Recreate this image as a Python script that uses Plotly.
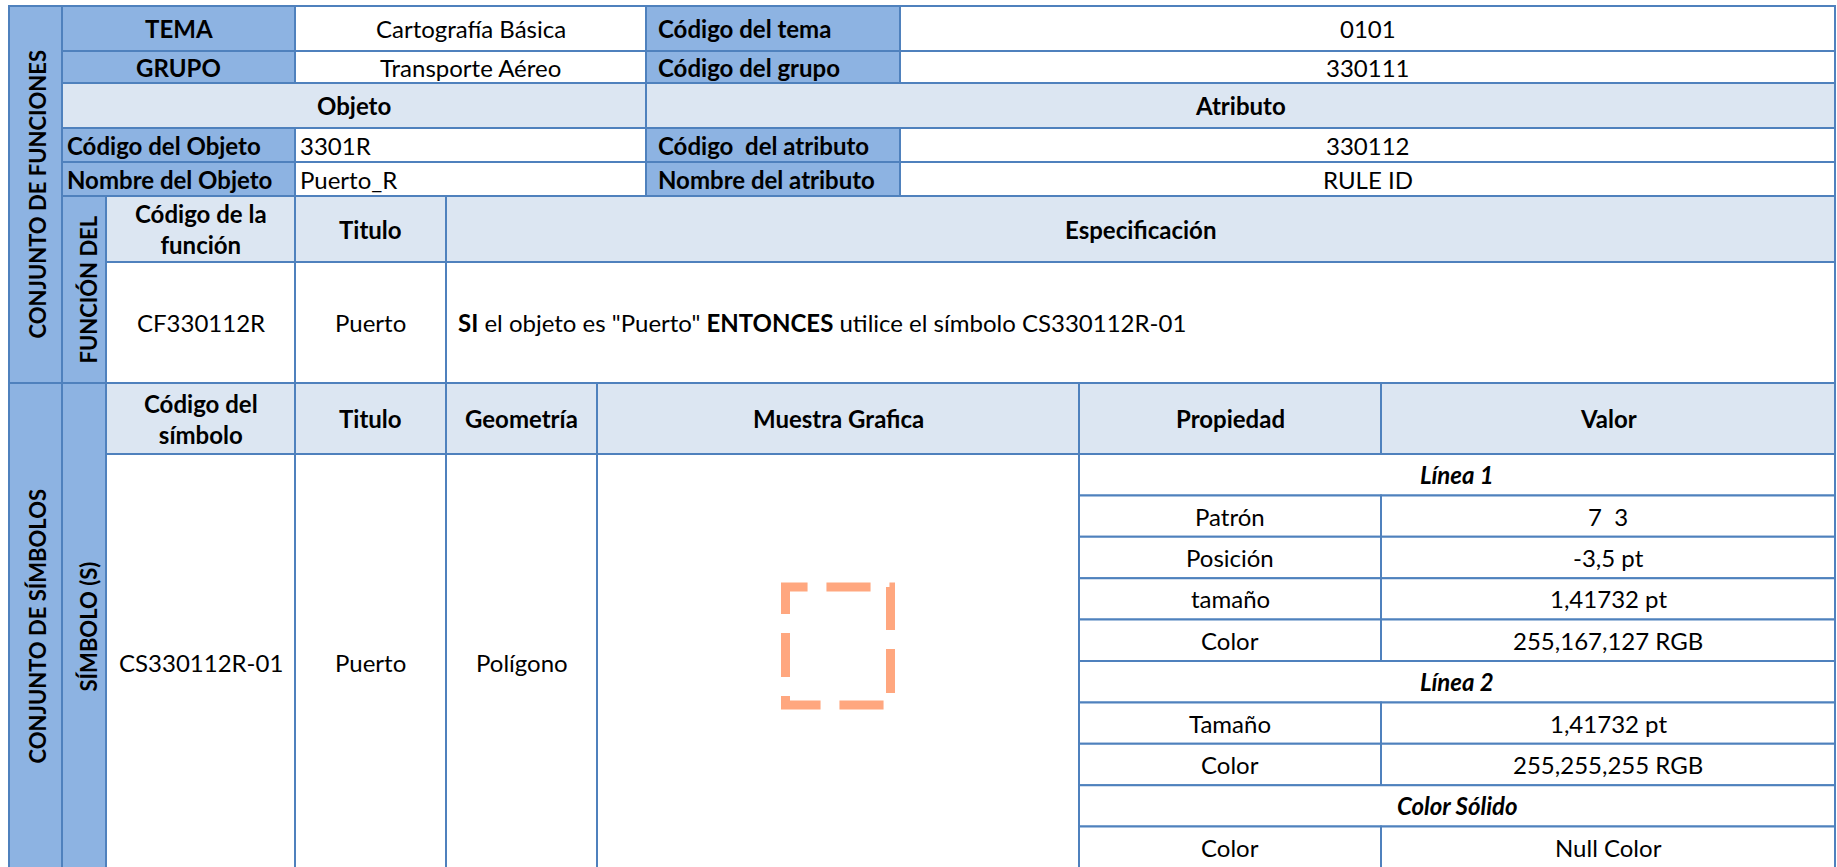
import plotly.graph_objects as go

# ---------------- data (table content) ----------------
tema_labels = ["TEMA", "GRUPO"]
tema_values = ["Cartografía Básica", "Transporte Aéreo"]
codigo_labels = ["Código del tema", "Código del grupo"]
codigo_values = ["0101", "330111"]
section_titles = ["Objeto", "Atributo"]
objeto_labels = ["Código del Objeto", "Nombre del Objeto"]
objeto_values = ["3301R", "Puerto_R"]
atributo_labels = ["Código\u00a0 del atributo", "Nombre del atributo"]
atributo_values = ["330112", "RULE ID"]
funcion_headers = ["Código de la<br>función", "Titulo", "Especificación"]
funcion_values = ["CF330112R", "Puerto",
                  "<b>SI</b> el objeto es \"Puerto\" <b>ENTONCES</b> utilice el símbolo CS330112R-01"]
simbolo_headers = ["Código del<br>símbolo", "Titulo", "Geometría", "Muestra Grafica", "Propiedad", "Valor"]
simbolo_values = ["CS330112R-01", "Puerto", "Polígono"]
property_names = ["Línea 1", "Patrón", "Posición", "tamaño", "Color",
                  "Línea 2", "Tamaño", "Color", "Color Sólido", "Color"]
property_values = [None, "7\u00a0\u00a03", "-3,5 pt", "1,41732 pt", "255,167,127 RGB",
                   None, "1,41732 pt", "255,255,255 RGB", None, "Null Color"]
side_labels = ["CONJUNTO DE FUNCIONES", "CONJUNTO DE SÍMBOLOS"]
sub_labels = ["FUNCIÓN DEL", "SÍMBOLO (S)"]
symbol_dash = [7, 3]
symbol_color = (255, 167, 127)

# ---------------- layout geometry (pixels) ----------------
W, H = 1837, 867
X = [9, 62, 106, 295, 446, 597, 646, 900, 1079, 1381, 1835]
Y_TOP = [6, 51, 83, 128, 162, 196, 262, 383, 454]
SUB_H = 41.4
Y_SUB = [Y_TOP[-1] + i * SUB_H for i in range(len(property_names) + 1)]

BLUE = "#8DB3E2"
LIGHT = "#DCE6F2"
WHITE = "#FFFFFF"
BORDER = "#4F81BD"
FONT = "Lato"
FS = 24
FS_SIDE = 22

shapes = []
annotations = []


def cell(x0, x1, y0, y1, fill, text=None, bold=False, italic=False, align="center", pad=4,
         angle=0, tx=None, size=FS):
    shapes.append(dict(type="rect", xref="x", yref="y", x0=x0, x1=x1, y0=y0, y1=y1,
                       fillcolor=fill, line=dict(color=BORDER, width=2), layer="below"))
    if text is None:
        return
    t = text
    if italic:
        t = "<i>" + t + "</i>"
    if bold:
        t = "<b>" + t + "</b>"
    if align == "left":
        x, xa = x0 + pad, "left"
    else:
        x, xa = (x0 + x1) / 2, "center"
    if tx is not None:
        x = tx
    annotations.append(dict(x=x, y=(y0 + y1) / 2, xref="x", yref="y", text=t, showarrow=False,
                            xanchor=xa, yanchor="middle", textangle=angle,
                            font=dict(family=FONT, size=size, color="#000000")))


# side label columns
cell(X[0], X[1], Y_TOP[0], Y_TOP[7], BLUE, side_labels[0], bold=True, angle=-90, tx=37, size=FS_SIDE)
cell(X[0], X[1], Y_TOP[7], Y_SUB[-1] + 2, BLUE, side_labels[1], bold=True, angle=-90, tx=37, size=FS_SIDE)
cell(X[1], X[2], Y_TOP[5], Y_TOP[7], BLUE, sub_labels[0], bold=True, angle=-90, tx=88, size=FS_SIDE)
cell(X[1], X[2], Y_TOP[7], Y_SUB[-1] + 2, BLUE, sub_labels[1], bold=True, angle=-90, tx=88, size=FS_SIDE)

# TEMA / GRUPO rows
for i in range(2):
    y0, y1 = Y_TOP[i], Y_TOP[i + 1]
    cell(X[1], X[3], y0, y1, BLUE, tema_labels[i], bold=True)
    cell(X[3], X[6], y0, y1, WHITE, tema_values[i])
    cell(X[6], X[7], y0, y1, BLUE, codigo_labels[i], bold=True, align="left", pad=10)
    cell(X[7], X[10], y0, y1, WHITE, codigo_values[i])

# Objeto / Atributo titles
cell(X[1], X[6], Y_TOP[2], Y_TOP[3], LIGHT, section_titles[0], bold=True)
cell(X[6], X[10], Y_TOP[2], Y_TOP[3], LIGHT, section_titles[1], bold=True)

# Objeto / Atributo rows
for i in range(2):
    y0, y1 = Y_TOP[3 + i], Y_TOP[4 + i]
    cell(X[1], X[3], y0, y1, BLUE, objeto_labels[i], bold=True, align="left", pad=3)
    cell(X[3], X[6], y0, y1, WHITE, objeto_values[i], align="left", pad=3)
    cell(X[6], X[7], y0, y1, BLUE, atributo_labels[i], bold=True, align="left", pad=10)
    cell(X[7], X[10], y0, y1, WHITE, atributo_values[i])

# Función headers and values
fcols = [(X[2], X[3]), (X[3], X[4]), (X[4], X[10])]
for (x0, x1), h in zip(fcols, funcion_headers):
    cell(x0, x1, Y_TOP[5], Y_TOP[6], LIGHT, h, bold=True)
for k, ((x0, x1), v) in enumerate(zip(fcols, funcion_values)):
    if k == 2:
        cell(x0, x1, Y_TOP[6], Y_TOP[7], WHITE, v, align="left", pad=10)
    else:
        cell(x0, x1, Y_TOP[6], Y_TOP[7], WHITE, v)

# Símbolo headers
scols = [(X[2], X[3]), (X[3], X[4]), (X[4], X[5]), (X[5], X[8]), (X[8], X[9]), (X[9], X[10])]
for (x0, x1), h in zip(scols, simbolo_headers):
    cell(x0, x1, Y_TOP[7], Y_TOP[8], LIGHT, h, bold=True)

# Símbolo values (big row)
ybig0, ybig1 = Y_TOP[8], Y_SUB[-1] + 2
for (x0, x1), v in zip(scols[:3], simbolo_values):
    cell(x0, x1, ybig0, ybig1, WHITE, v)
cell(X[5], X[8], ybig0, ybig1, WHITE)

# property rows
for i, (name, val) in enumerate(zip(property_names, property_values)):
    y0, y1 = Y_SUB[i], Y_SUB[i + 1]
    if val is None:
        cell(X[8], X[10], y0, y1, WHITE, name, bold=True, italic=True)
    else:
        cell(X[8], X[9], y0, y1, WHITE, name)
        cell(X[9], X[10], y0, y1, WHITE, val)

# symbol sample (dashed polygon outline)
sw, sh = 105, 118
cx = (X[5] + X[8]) / 2
cy = (ybig0 + ybig1) / 2 - 16
sx0, sx1, sy0, sy1 = cx - sw / 2, cx + sw / 2, cy - sh / 2, cy + sh / 2
unit = 6.3
dash = f"{symbol_dash[0] * unit}px,{symbol_dash[1] * unit}px"
start = symbol_dash[0] * unit / 2
path = (f"M {sx0},{sy0 + start} L {sx0},{sy0} L {sx1},{sy0} "
        f"L {sx1},{sy1} L {sx0},{sy1} Z")
shapes.append(dict(type="path", xref="x", yref="y", path=path,
                   line=dict(color="rgb(%d,%d,%d)" % symbol_color, width=9, dash=dash),
                   layer="above"))

fig = go.Figure()
fig.add_trace(go.Scatter(x=[0], y=[0], mode="markers", marker=dict(opacity=0),
                         hoverinfo="skip", showlegend=False))
fig.update_layout(
    width=W, height=H, autosize=False,
    margin=dict(l=0, r=0, t=0, b=0),
    paper_bgcolor="white", plot_bgcolor="white",
    xaxis=dict(range=[0, W], visible=False, fixedrange=True),
    yaxis=dict(range=[H, 0], visible=False, fixedrange=True),
    shapes=shapes, annotations=annotations, showlegend=False,
)
fig.write_html("out.html", config={"displayModeBar": False},
               post_script="document.body.style.margin='0';document.body.style.overflow='hidden';")
